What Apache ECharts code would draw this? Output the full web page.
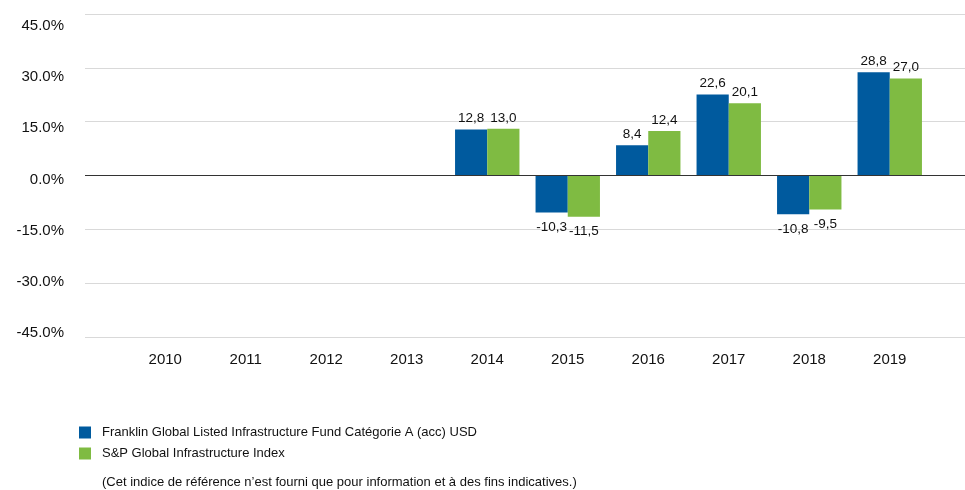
<!DOCTYPE html>
<html>
<head>
<meta charset="utf-8">
<script src="https://cdn.jsdelivr.net/npm/echarts@6/dist/echarts.min.js"></script>
<style>
    html, body { margin: 0; padding: 0; background: #fff; }
    #chart { width: 965px; height: 490px; }
</style>
</head>
<body>
<div id="chart"></div>
<script>
// Données
const years = ['2010', '2011', '2012', '2013', '2014', '2015', '2016', '2017', '2018', '2019'];
const fundValues = [null, null, null, null, 12.8, -10.3, 8.4, 22.6, -10.8, 28.8];
const indexValues = [null, null, null, null, 13.0, -11.5, 12.4, 20.1, -9.5, 27.0];
const fundName = 'Franklin Global Listed Infrastructure Fund Catégorie A (acc) USD';
const indexName = 'S&P Global Infrastructure Index';
const footnote = '(Cet indice de référence n\u2019est fourni que pour information et à des fins indicatives.)';
const yMin = -45, yMax = 45, yStep = 15;

const FONT = '"Liberation Sans", Arial, sans-serif';
const BLUE = '#005A9E';
const GREEN = '#7FBB42';

function fmtComma(v) {
    return v.toFixed(1).replace('.', ',');
}

// étiquettes des barres : au-dessus si positif, en dessous si négatif
function labelFor(values) {
    return values.map(v => v === null ? null : {
        value: v,
        label: { distance: v < 0 ? 8 : 4 }
    });
}

const labelOpt = {
    show: true,
    position: 'outside',
    fontFamily: FONT,
    fontSize: 13.5,
    color: '#111',
    formatter: p => fmtComma(p.value)
};

const chart = echarts.init(document.getElementById('chart'));
chart.setOption({
    animation: false,
    textStyle: { fontFamily: FONT },
    grid: [
        // grille de fond (lignes horizontales)
        { left: 85, right: 0, top: 14, bottom: 153 },
        // barres
        { left: 125, right: 35, top: 14, bottom: 153 },
        // libellés de l'axe Y
        { left: 85, right: 0, top: 26, bottom: 157 }
    ],
    xAxis: [
        {
            gridIndex: 0, type: 'value', min: 0, max: 1, show: true,
            axisLine: { show: false }, axisTick: { show: false },
            axisLabel: { show: false }, splitLine: { show: false }
        },
        {
            gridIndex: 1, type: 'category', data: years,
            axisLine: { show: false }, axisTick: { show: false },
            axisLabel: { margin: 15, fontSize: 15, color: '#111', fontFamily: FONT }
        },
        {
            gridIndex: 2, type: 'value', min: 0, max: 1, show: false
        }
    ],
    yAxis: [
        {
            gridIndex: 0, type: 'value', min: yMin, max: yMax, interval: yStep,
            axisLine: { show: false }, axisTick: { show: false },
            axisLabel: { show: false },
            splitLine: { lineStyle: { color: '#d9d9d9', width: 1 } }
        },
        {
            gridIndex: 1, type: 'value', min: yMin, max: yMax, interval: yStep,
            show: false, splitLine: { show: false }
        },
        {
            gridIndex: 2, type: 'value', min: yMin, max: yMax, interval: yStep,
            axisLine: { show: false }, axisTick: { show: false },
            splitLine: { show: false },
            axisLabel: {
                margin: 21, fontSize: 15, color: '#111', fontFamily: FONT,
                formatter: v => v.toFixed(1) + '%'
            }
        }
    ],
    legend: {
        orient: 'vertical',
        left: 79,
        top: 424,
        padding: [2, 0, 0, 0],
        itemWidth: 12,
        itemHeight: 12,
        itemGap: 8,
        icon: 'rect',
        textStyle: { fontSize: 13, color: '#111', fontFamily: FONT, padding: [0, 0, 0, 6] },
        data: [fundName, indexName]
    },
    title: {
        text: footnote,
        left: 102,
        top: 476,
        padding: 0,
        textStyle: { fontSize: 13, fontWeight: 'normal', color: '#111', fontFamily: FONT }
    },
    series: [
        {
            name: fundName, type: 'bar', xAxisIndex: 1, yAxisIndex: 1,
            data: labelFor(fundValues), barGap: '0%', barCategoryGap: '20%',
            itemStyle: { color: BLUE }, label: labelOpt
        },
        {
            name: indexName, type: 'bar', xAxisIndex: 1, yAxisIndex: 1,
            data: labelFor(indexValues), barGap: '0%', barCategoryGap: '20%',
            itemStyle: { color: GREEN }, label: labelOpt
        },
        {
            // ligne du zéro
            type: 'line', xAxisIndex: 0, yAxisIndex: 0, z: 5,
            data: [], silent: true,
            markLine: {
                silent: true, symbol: 'none', label: { show: false },
                lineStyle: { color: '#333', width: 1.2, type: 'solid' },
                data: [{ yAxis: 0 }]
            }
        }
    ]
});
</script>
</body>
</html>
